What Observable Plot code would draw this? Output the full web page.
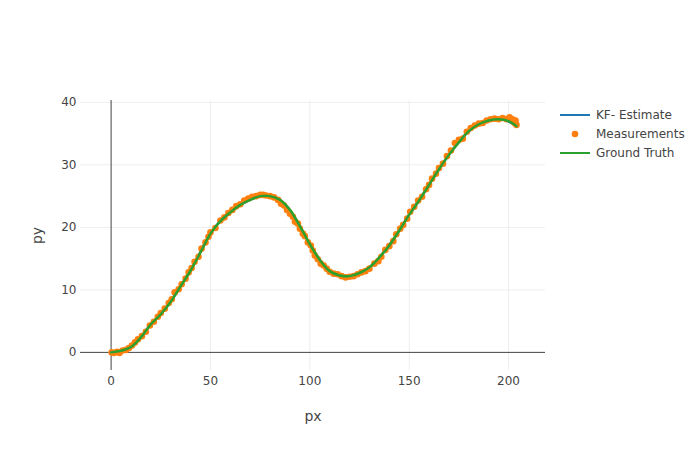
<!DOCTYPE html>
<html>
<head>
<meta charset="utf-8">
<script src="https://cdn.jsdelivr.net/npm/d3@7"></script>
<script src="https://cdn.jsdelivr.net/npm/@observablehq/plot@0.6"></script>
<style>
  html, body { margin: 0; padding: 0; background: white; }
  #chart { width: 700px; height: 450px; }
</style>
</head>
<body>
<div id="chart"></div>
<script>
// ---- Data ----
const truthX = [0, 5, 10, 15, 20, 25, 30, 35, 40, 45, 50, 55, 60, 65, 70, 75, 80, 85, 90, 95, 100, 105, 110, 115, 120, 125, 130, 135, 140, 145, 150, 155, 160, 165, 170, 175, 180, 185, 190, 195, 200, 204];
const truthY = [0, 0.25, 0.85, 2.4, 4.5, 6.1, 8.1, 10.6, 13.1, 16.0, 19.0, 21.0, 22.4, 23.6, 24.4, 25.0, 25.0, 24.4, 22.8, 20.2, 17.3, 14.8, 13.0, 12.3, 12.2, 12.7, 13.6, 15.2, 17.1, 19.5, 22.0, 24.3, 26.8, 29.3, 31.6, 33.6, 35.4, 36.5, 37.1, 37.3, 37.0, 36.2];

const kfX = [0, 4, 9, 14, 19, 24, 29, 34, 39, 44, 49, 54, 59, 64, 69, 74, 79, 84, 89, 94, 99, 104, 109, 114, 119, 124, 129, 134, 139, 144, 149, 154, 159, 164, 169, 174, 179, 184, 189, 194, 199, 203.8];
const kfY = [0, 0.2, 0.75, 2.1, 4.1, 5.8, 7.7, 10.1, 12.6, 15.5, 18.5, 20.7, 22.2, 23.4, 24.3, 24.9, 25.0, 24.6, 23.1, 20.8, 17.9, 15.3, 13.3, 12.4, 12.2, 12.6, 13.4, 14.8, 16.8, 19.0, 21.6, 23.9, 26.3, 28.8, 31.2, 33.3, 35.1, 36.3, 37.0, 37.3, 37.1, 36.3];

const measX = [0.3, 1.5, 3.0, 4.2, 5.8, 7.5, 9.0, 10.5, 12.0, 13.5, 15.5, 17.5, 19.5, 21.5, 23.5, 25.0, 27.0, 29.0, 30.5, 32.0, 34.0, 35.5, 37.5, 39.0, 40.5, 42.0, 44.0, 45.5, 47.5, 49.0, 50.0, 52.5, 55.0, 57.0, 59.0, 61.0, 63.0, 65.0, 67.0, 69.0, 71.0, 73.0, 75.0, 76.5, 78.0, 80.0, 82.0, 84.0, 85.5, 87.0, 88.5, 90.0, 91.5, 92.5, 94.0, 95.0, 96.5, 97.5, 99.0, 100.5, 101.5, 102.5, 104.0, 105.5, 107.0, 108.5, 110.0, 112.0, 114.0, 116.0, 118.0, 120.0, 122.0, 124.0, 126.0, 128.0, 130.0, 132.5, 134.5, 136.0, 138.0, 140.0, 142.0, 143.5, 145.5, 147.0, 149.0, 150.5, 152.5, 154.5, 156.5, 158.5, 160.0, 161.5, 163.5, 165.0, 167.0, 169.0, 171.0, 173.0, 175.0, 177.0, 179.0, 181.0, 183.0, 185.0, 187.0, 189.0, 191.0, 193.0, 195.0, 197.0, 199.0, 200.5, 202.0, 203.5, 204.0, 203.0];
const measY = [0.0, -0.1, 0.1, -0.1, 0.3, 0.4, 0.7, 1.1, 1.6, 2.1, 2.6, 3.3, 4.3, 4.9, 5.7, 6.3, 7.0, 7.9, 8.5, 9.6, 10.1, 10.9, 11.8, 12.8, 13.5, 14.5, 15.3, 16.6, 17.6, 18.5, 19.2, 19.9, 21.1, 21.6, 22.3, 22.8, 23.4, 23.7, 24.3, 24.6, 24.9, 25.0, 25.2, 25.2, 25.1, 25.0, 24.8, 24.4, 23.8, 23.5, 22.8, 22.2, 21.7, 20.9, 20.6, 19.8, 19.0, 18.6, 17.6, 17.1, 16.3, 15.5, 14.9, 14.2, 13.9, 13.4, 12.9, 12.6, 12.5, 12.2, 12.0, 12.1, 12.2, 12.5, 12.8, 13.0, 13.4, 14.2, 14.6, 15.3, 16.4, 17.0, 17.8, 18.9, 19.8, 20.4, 21.4, 22.5, 23.3, 24.3, 24.9, 26.1, 26.8, 27.8, 28.6, 29.5, 30.2, 31.4, 32.3, 33.5, 34.0, 34.2, 35.3, 35.9, 36.3, 36.6, 36.7, 37.1, 37.3, 37.4, 37.3, 37.5, 37.3, 37.6, 37.3, 37.1, 36.4, 36.7];

const xTicks = [0, 50, 100, 150, 200];
const yTicks = [0, 10, 20, 30, 40];
const seriesNames = ["KF- Estimate", "Measurements", "Ground Truth"];
const seriesColors = ["#1f77b4", "#ff7f0e", "#2ca02c"];

// ---- Tables ----
const truth = truthX.map((x, i) => ({x, y: truthY[i]}));
const kf = kfX.map((x, i) => ({x, y: kfY[i]}));
const meas = measX.map((x, i) => ({x, y: measY[i]}));

const FONT = "'DejaVu Sans', Verdana, sans-serif";

const chart = Plot.plot({
  width: 700,
  height: 450,
  marginLeft: 80,
  marginRight: 155,
  marginTop: 100,
  marginBottom: 80,
  style: {fontFamily: FONT, fontSize: "12px", color: "#444", background: "white"},
  x: {domain: [-15.4, 218.6], ticks: xTicks, tickSize: 0, tickPadding: 6, label: "px", labelAnchor: "center", labelArrow: "none", labelOffset: 50},
  y: {domain: [-2.9, 40.3], ticks: yTicks, tickSize: 0, tickPadding: 4, label: "py", labelAnchor: "center", labelArrow: "none", labelOffset: 48},
  marks: [
    Plot.gridX(xTicks.filter(d => d !== 0), {stroke: "#eee", strokeOpacity: 1, strokeWidth: 1}),
    Plot.gridY(yTicks.filter(d => d !== 0), {stroke: "#eee", strokeOpacity: 1, strokeWidth: 1}),
    Plot.ruleX([0], {stroke: "#444", strokeWidth: 1}),
    Plot.ruleY([0], {stroke: "#444", strokeWidth: 1}),
    Plot.line(kf, {x: "x", y: "y", stroke: seriesColors[0], strokeWidth: 2.5, curve: "catmull-rom"}),
    Plot.dot(meas, {x: "x", y: "y", fill: seriesColors[1], r: 3.3, stroke: "none"}),
    Plot.line(truth, {x: "x", y: "y", stroke: seriesColors[2], strokeWidth: 2.5, curve: "catmull-rom"})
  ]
});

document.getElementById("chart").appendChild(chart);

// axis title size
d3.select(chart).selectAll('g[aria-label="x-axis label"] text, g[aria-label="y-axis label"] text')
  .attr("font-size", 14);

// ---- Legend ----
const svg = d3.select(chart);
const lg = svg.append("g").attr("font-family", FONT).attr("font-size", 12).attr("fill", "#444")
  .attr("text-anchor", "start");
const legendY = [115, 134, 153];
seriesNames.forEach((name, i) => {
  const y = legendY[i];
  if (i === 1) {
    lg.append("circle").attr("cx", 575).attr("cy", y).attr("r", 3.3).attr("fill", seriesColors[i]);
  } else {
    lg.append("line").attr("x1", 560).attr("x2", 590).attr("y1", y).attr("y2", y)
      .attr("stroke", seriesColors[i]).attr("stroke-width", 2);
  }
  lg.append("text").attr("x", 596).attr("y", y).attr("dy", "0.35em").attr("text-anchor", "start").text(name);
});
</script>
</body>
</html>
